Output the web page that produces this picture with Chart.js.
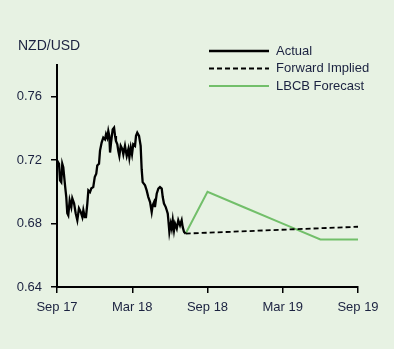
<!DOCTYPE html>
<html><head><meta charset="utf-8">
<script src="https://cdn.jsdelivr.net/npm/chart.js@4/dist/chart.umd.min.js"></script>
<style>html,body{margin:0;padding:0;background:#e7f2e3;}canvas{display:block;}</style>
</head><body>
<canvas id="c" width="394" height="349"></canvas>
<script>
// x in months since Sep 2017
const actualMonths = [0,0.16,0.24,0.34,0.42,0.50,0.64,0.74,0.82,0.90,1.01,1.14,1.22,1.36,1.49,1.62,1.75,1.89,2.02,2.10,2.21,2.31,2.42,2.50,2.63,2.74,2.89,3.01,3.13,3.21,3.35,3.43,3.56,3.69,3.83,3.91,4.01,4.09,4.17,4.23,4.31,4.44,4.55,4.63,4.70,4.81,4.89,4.97,5.08,5.21,5.29,5.42,5.56,5.69,5.77,5.88,5.98,6.08,6.22,6.30,6.40,6.54,6.67,6.75,6.83,7.02,7.15,7.28,7.42,7.55,7.63,7.74,7.81,7.95,8.08,8.21,8.35,8.43,8.53,8.67,8.75,8.83,8.88,8.96,9.07,9.15,9.23,9.33,9.41,9.55,9.67,9.81,9.94,10.02,10.13,10.26];
const actualValues = [0.7198,0.7177,0.7072,0.7061,0.7177,0.7155,0.7041,0.6967,0.6865,0.6852,0.6946,0.6904,0.6959,0.6928,0.6865,0.6821,0.6896,0.6873,0.6841,0.6884,0.6841,0.6841,0.6928,0.7009,0.6998,0.7022,0.7030,0.7093,0.7114,0.7166,0.7177,0.7260,0.7311,0.7342,0.7331,0.7363,0.7342,0.7384,0.7353,0.7248,0.7311,0.7394,0.7405,0.7353,0.7321,0.7300,0.7258,0.7227,0.7290,0.7269,0.7237,0.7290,0.7227,0.7269,0.7216,0.7279,0.7237,0.7300,0.7290,0.7353,0.7373,0.7353,0.7290,0.7143,0.7061,0.7041,0.7009,0.6967,0.6936,0.6873,0.6915,0.6936,0.6904,0.6988,0.7020,0.7030,0.7020,0.6967,0.6926,0.6904,0.6884,0.6863,0.6821,0.6747,0.6800,0.6769,0.6821,0.6758,0.6800,0.6769,0.6821,0.6789,0.6821,0.6779,0.6747,0.6737];
const fwdMonths = [10.26,24];
const fwdValues = [0.6737,0.678];
const lbcbMonths = [10.26,12,15,18,21,24];
const lbcbValues = [0.6737,0.700,0.690,0.680,0.670,0.670];
const xTickValues = [0,6,12,18,24];
const xTickLabels = ['Sep 17','Mar 18','Sep 18','Mar 19','Sep 19'];
const yTickValues = [0.64,0.68,0.72,0.76];
const seriesNames = ['Actual','Forward Implied','LBCB Forecast'];

const TXT = '#1b2240';
const FONT = '"Liberation Sans", Arial, sans-serif';
const toXY = (xs, ys) => xs.map((x,i)=>({x:x, y:ys[i]}));

const legendPlugin = {
  id: 'customLegend',
  afterDraw(chart) {
    const ctx = chart.ctx;
    const rows = [51, 68.5, 86];
    chart.data.datasets.forEach((ds, i) => {
      const y = rows[i];
      ctx.save();
      ctx.strokeStyle = ds.borderColor;
      ctx.lineWidth = ds.borderWidth;
      ctx.setLineDash(ds.borderDash || []);
      ctx.beginPath(); ctx.moveTo(209, y); ctx.lineTo(269, y); ctx.stroke();
      ctx.setLineDash([]);
      ctx.fillStyle = TXT;
      ctx.font = '13px ' + FONT;
      ctx.textBaseline = 'middle';
      ctx.fillText(ds.label, 276, y);
      ctx.restore();
    });
    ctx.save();
    ctx.fillStyle = TXT;
    ctx.font = '14px ' + FONT;
    ctx.textBaseline = 'middle';
    ctx.fillText('NZD/USD', 18, 46);
    ctx.restore();
  }
};

new Chart(document.getElementById('c'), {
  type: 'line',
  data: {
    datasets: [
      {label: seriesNames[0], data: toXY(actualMonths, actualValues), borderColor:'#000', borderWidth:2.3, pointRadius:0, tension:0},
      {label: seriesNames[1], data: toXY(fwdMonths, fwdValues), borderColor:'#000', borderWidth:1.8, borderDash:[5,3], pointRadius:0},
      {label: seriesNames[2], data: toXY(lbcbMonths, lbcbValues), borderColor:'#72bf6a', borderWidth:2, pointRadius:0}
    ]
  },
  options: {
    responsive:false, animation:false,
    layout:{padding:{top:65,right:36,left:0,bottom:0}},
    plugins:{legend:{display:false}, tooltip:{enabled:false}},
    scales:{
      x:{type:'linear', min:0, max:24,
        afterBuildTicks: s => { s.ticks = xTickValues.map(v=>({value:v})); },
        afterFit: s => { s.height = 62; },
        grid:{drawOnChartArea:false, drawTicks:true, tickLength:6, color:'#000', lineWidth:1.5},
        border:{display:true, color:'#000', width:2},
        ticks:{color:TXT, font:{family:FONT, size:13}, padding:7, maxRotation:0, autoSkip:false,
          callback:(v)=>{const i=xTickValues.indexOf(v); return i>=0?xTickLabels[i]:'';}}
      },
      y:{type:'linear', min:0.64, max:0.78,
        afterBuildTicks: s => { s.ticks = yTickValues.map(v=>({value:v})); },
        afterFit: s => { s.width = 57; },
        grid:{drawOnChartArea:false, drawTicks:true, tickLength:6, color:'#000', lineWidth:1.5},
        border:{display:true, color:'#000', width:2},
        ticks:{color:TXT, font:{family:FONT, size:13}, padding:9, callback:(v)=>v.toFixed(2)}
      }
    }
  },
  plugins:[legendPlugin]
});
</script>
</body></html>
